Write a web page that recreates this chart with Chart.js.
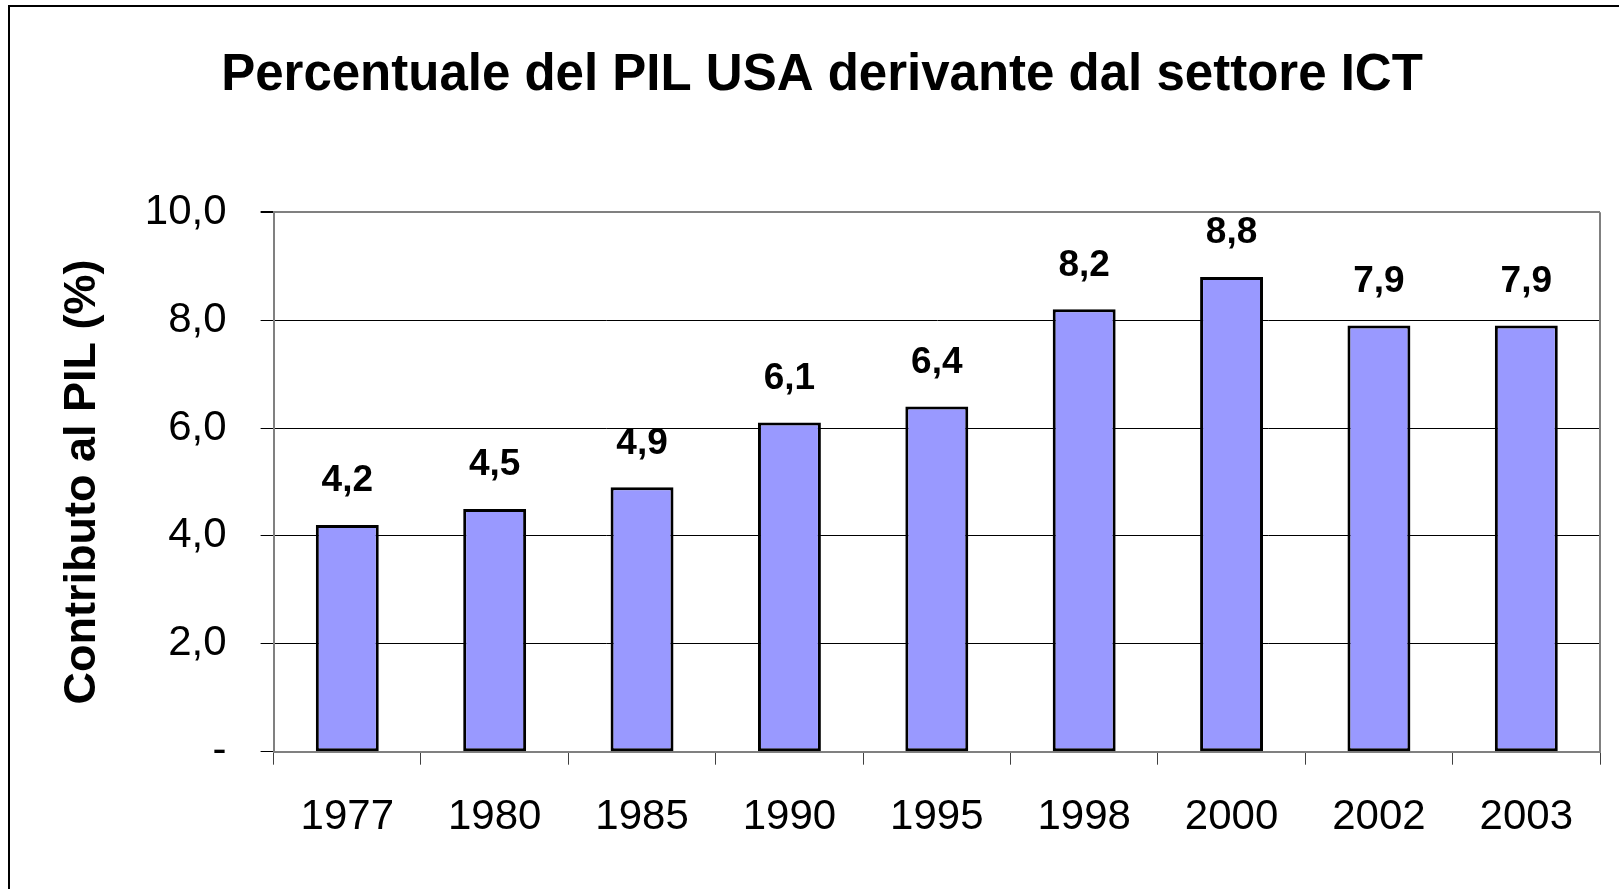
<!DOCTYPE html>
<html>
<head>
<meta charset="utf-8">
<script src="https://cdn.jsdelivr.net/npm/chart.js@4/dist/chart.umd.min.js"></script>
<style>
    html, body { margin: 0; padding: 0; background: #fff; }
    canvas { display: block; }
</style>
</head>
<body>
<canvas id="pilChart" width="1619" height="889"></canvas>
<script>
// Data
const years = ['1977', '1980', '1985', '1990', '1995', '1998', '2000', '2002', '2003'];
const ictShare = [4.2, 4.5, 4.9, 6.1, 6.4, 8.2, 8.8, 7.9, 7.9];
const yTicks = [0, 2, 4, 6, 8, 10];

const fontFamily = '"Liberation Sans", Arial, sans-serif';
const fmt = v => v.toFixed(1).replace('.', ',');

// Value labels above the bars and the frame lines
const extrasPlugin = {
    id: 'extras',
    afterDatasetsDraw(chart) {
        const ctx = chart.ctx;
        const meta = chart.getDatasetMeta(0);
        ctx.save();
        ctx.font = 'bold 37px ' + fontFamily;
        ctx.fillStyle = '#000';
        ctx.textAlign = 'center';
        ctx.textBaseline = 'middle';
        meta.data.forEach((bar, i) => {
            ctx.fillText(fmt(ictShare[i]), bar.x, bar.y - 44);
        });
        ctx.restore();
    },
    afterDraw(chart) {
        const ctx = chart.ctx;
        const area = chart.chartArea;
        ctx.save();
        // right edge of the plot area
        ctx.strokeStyle = '#808080';
        ctx.lineWidth = 2;
        ctx.beginPath();
        ctx.moveTo(area.right, area.top);
        ctx.lineTo(area.right, area.bottom);
        ctx.stroke();
        // outer chart border (left and top)
        ctx.strokeStyle = '#000';
        ctx.lineWidth = 2;
        ctx.beginPath();
        ctx.moveTo(9, chart.height);
        ctx.lineTo(9, 6);
        ctx.lineTo(chart.width, 6);
        ctx.stroke();
        ctx.restore();
    }
};

const ctx = document.getElementById('pilChart').getContext('2d');
new Chart(ctx, {
    type: 'bar',
    data: {
        labels: years,
        datasets: [{
            data: ictShare,
            backgroundColor: '#9999FF',
            borderColor: '#000',
            borderWidth: 3,
            borderSkipped: false,
            barPercentage: 0.427,
            categoryPercentage: 1,
        }],
    },
    options: {
        responsive: false,
        animation: false,
        layout: {
            padding: { left: 44, right: 19, top: 0, bottom: 0 },
        },
        plugins: {
            legend: { display: false },
            tooltip: { enabled: false },
            title: {
                display: true,
                text: 'Percentuale del PIL USA derivante dal settore ICT',
                color: '#000',
                font: { family: fontFamily, size: 51, weight: 'bold', lineHeight: 1.2 },
                padding: { top: 45, bottom: 106 },
            },
        },
        scales: {
            x: {
                offset: true,
                grid: {
                    offset: true,
                    drawOnChartArea: false,
                    drawTicks: true,
                    tickLength: 13,
                    color: '#404040',
                },
                border: { color: '#808080', width: 2 },
                ticks: {
                    color: '#000',
                    padding: 28,
                    maxRotation: 0,
                    font: { family: fontFamily, size: 42 },
                },
                afterFit(scale) {
                    scale.height = 137.3;
                },
            },
            y: {
                min: 0,
                max: 10,
                afterBuildTicks(scale) {
                    scale.ticks = yTicks.map(v => ({ value: v }));
                },
                grid: {
                    color: c => (c.tick && (c.tick.value === 0 || c.tick.value === 10)) ? '#808080' : '#000',
                    lineWidth: c => (c.tick && c.tick.value === 10) ? 2 : 1,
                    tickColor: '#000',
                    tickLength: 13,
                },
                border: { color: '#808080', width: 2 },
                ticks: {
                    color: '#000',
                    padding: 34,
                    font: { family: fontFamily, size: 42 },
                    callback: v => v === 0 ? '-' : fmt(v),
                },
                title: {
                    display: true,
                    text: 'Contributo al PIL (%)',
                    color: '#000',
                    font: { family: fontFamily, size: 45, weight: 'bold', lineHeight: 1.2 },
                    padding: { top: 12, bottom: 0 },
                },
                afterFit(scale) {
                    scale.width = 229.6;
                },
            },
        },
    },
    plugins: [extrasPlugin],
});
</script>
</body>
</html>
